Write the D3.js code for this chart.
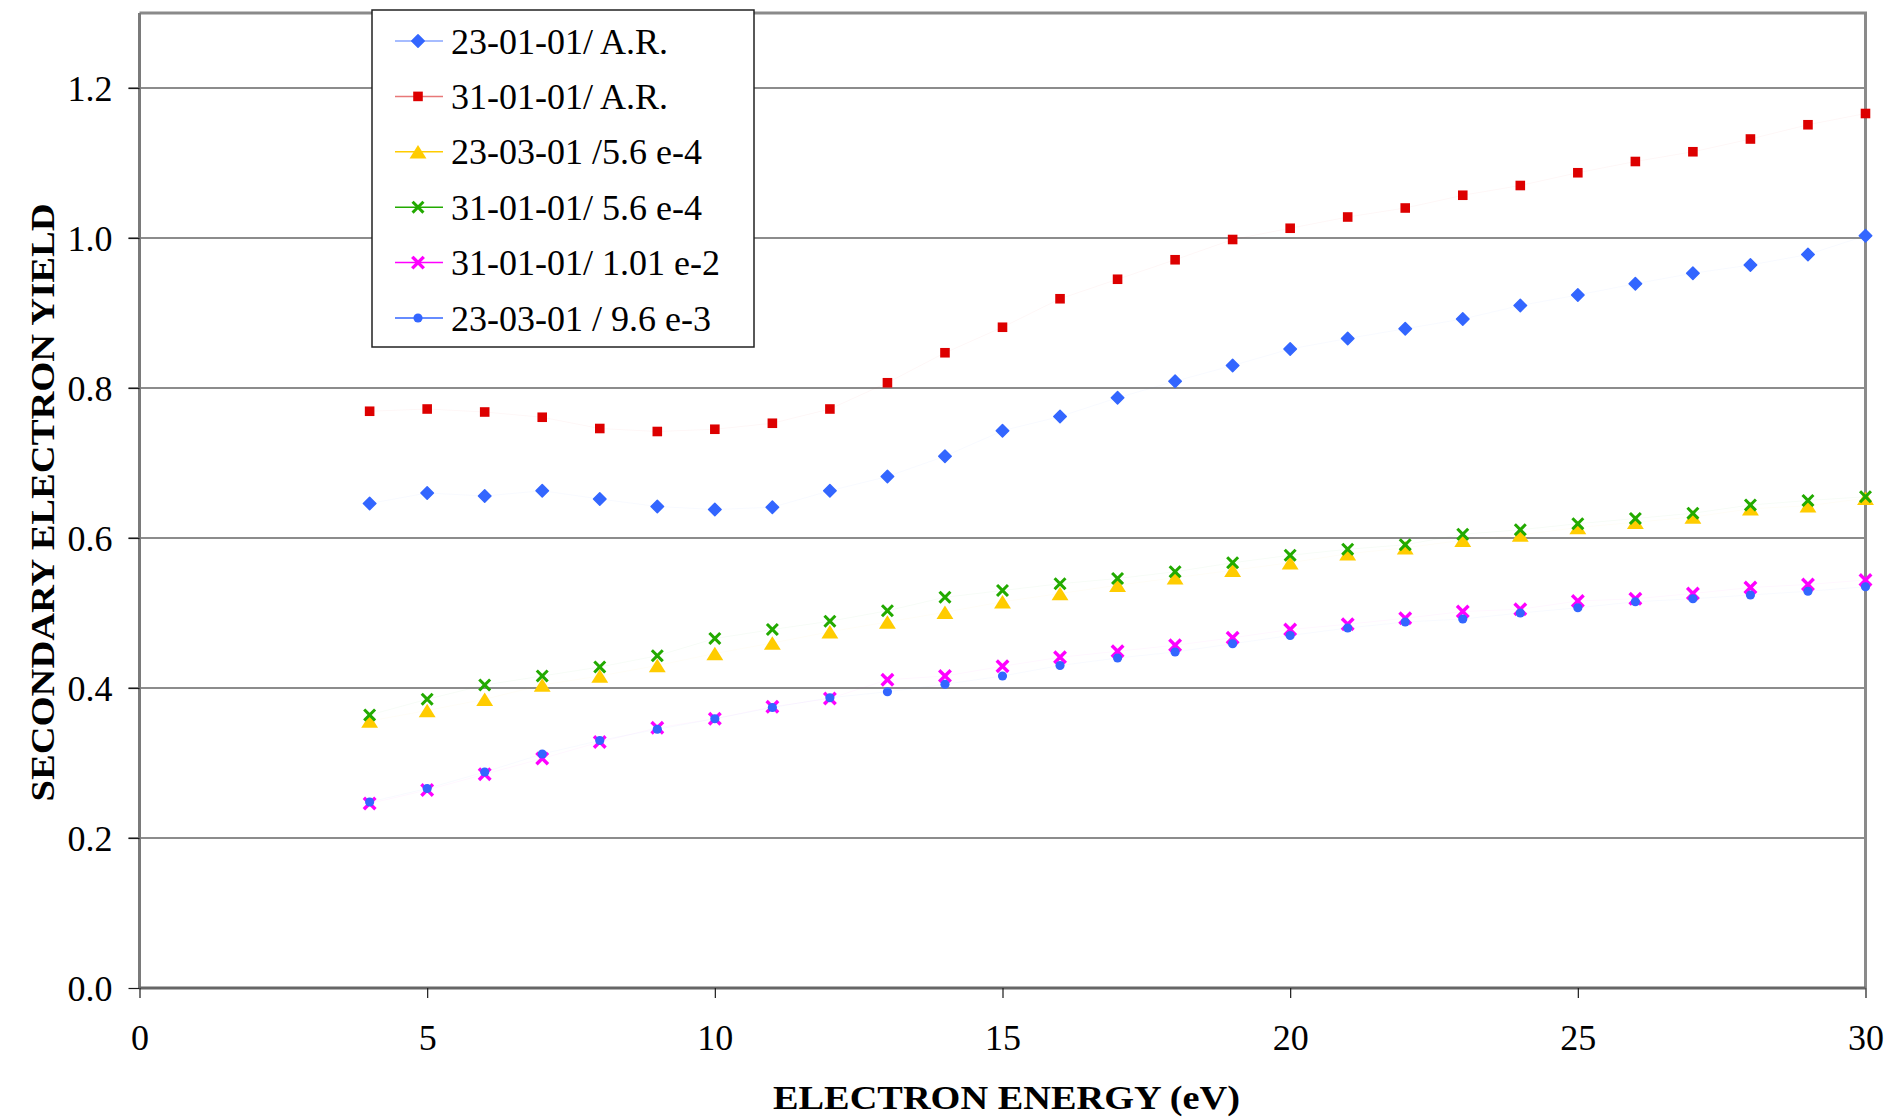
<!DOCTYPE html>
<html>
<head>
<meta charset="utf-8">
<script src="https://cdn.jsdelivr.net/npm/d3@7"></script>
<style>
  html, body { margin: 0; padding: 0; background: #fff; }
  svg { display: block; font-family: "Liberation Serif", "Times New Roman", serif; }
</style>
</head>
<body>
<svg id="chart" width="1889" height="1118"></svg>
<script>
/* Daten */
const energy = [4, 5, 6, 7, 8, 9, 10, 11, 12, 13, 14, 15, 16, 17, 18, 19, 20, 21, 22, 23, 24, 25, 26, 27, 28, 29, 30];

const ar2301   = [0.646, 0.660, 0.656, 0.663, 0.652, 0.642, 0.638, 0.641, 0.663, 0.682, 0.709, 0.743, 0.762, 0.787,
                  0.809, 0.830, 0.852, 0.866, 0.879, 0.892, 0.910, 0.924, 0.939, 0.953, 0.964, 0.978, 1.003];
const ar3101   = [0.769, 0.772, 0.768, 0.761, 0.746, 0.742, 0.745, 0.753, 0.772, 0.807, 0.847, 0.881, 0.919, 0.945,
                  0.971, 0.998, 1.013, 1.028, 1.040, 1.057, 1.070, 1.087, 1.102, 1.115, 1.132, 1.151, 1.166];
const e4_2303  = [0.356, 0.370, 0.385, 0.404, 0.416, 0.430, 0.446, 0.460, 0.475, 0.488, 0.501, 0.515, 0.526, 0.537,
                  0.547, 0.557, 0.567, 0.579, 0.587, 0.597, 0.604, 0.614, 0.621, 0.628, 0.639, 0.643, 0.653];
const e4_3101  = [0.364, 0.385, 0.404, 0.416, 0.428, 0.443, 0.466, 0.478, 0.489, 0.503, 0.521, 0.530, 0.539, 0.546,
                  0.555, 0.567, 0.577, 0.585, 0.591, 0.605, 0.611, 0.619, 0.626, 0.633, 0.644, 0.650, 0.655];
const e2_3101  = [0.246, 0.264, 0.285, 0.306, 0.328, 0.347, 0.359, 0.375, 0.386, 0.411, 0.416, 0.429, 0.441, 0.449,
                  0.457, 0.467, 0.478, 0.485, 0.493, 0.502, 0.505, 0.516, 0.519, 0.526, 0.534, 0.538, 0.544];
const e3_2303  = [0.248, 0.266, 0.288, 0.312, 0.330, 0.345, 0.359, 0.374, 0.387, 0.395, 0.405, 0.416, 0.430, 0.440,
                  0.448, 0.459, 0.470, 0.480, 0.488, 0.492, 0.500, 0.507, 0.515, 0.519, 0.524, 0.529, 0.535];

const seriesNames = ["23-01-01/ A.R.", "31-01-01/ A.R.", "23-03-01 /5.6 e-4",
                     "31-01-01/ 5.6 e-4", "31-01-01/ 1.01 e-2", "23-03-01 / 9.6 e-3"];
const seriesValues = [ar2301, ar3101, e4_2303, e4_3101, e2_3101, e3_2303];

const xTicks = [0, 5, 10, 15, 20, 25, 30];
const yTicks = [0, 0.2, 0.4, 0.6, 0.8, 1.0, 1.2];

/* Stil */
const plotLeft = 139.5, plotRight = 1865.5, plotTop = 13, plotBottom = 988;

// eigenes Dreieck (breiter als hoch, wie bei Excel)
const wideTriangle = {
  draw(ctx, size) {
    const w = Math.sqrt(size) * 1.15, h = w * 0.8;
    ctx.moveTo(0, -h / 2);
    ctx.lineTo(w / 2, h / 2);
    ctx.lineTo(-w / 2, h / 2);
    ctx.closePath();
  }
};

const styles = [
  { color: "#3366ff", legendLine: "#88a6ff", type: d3.symbolSquare, size: 78, rotate: 45, fill: true, round: 1.5 },
  { color: "#dd0000", legendLine: "#e87878", type: d3.symbolSquare, size: 92, rotate: 0, fill: true },
  { color: "#ffcc00", legendLine: "#ffcc00", type: wideTriangle,     size: 215, rotate: 0, fill: true },
  { color: "#22aa00", legendLine: "#22aa00", type: d3.symbolTimes,   size: 52, rotate: 0, fill: false, sw: 3 },
  { color: "#ff00ff", legendLine: "#ff00ff", type: d3.symbolTimes,   size: 56, rotate: 0, fill: false, sw: 3.4 },
  { color: "#3366ff", legendLine: "#3366ff", type: d3.symbolCircle,  size: 66, rotate: 0, fill: true }
];

const svg = d3.select("#chart");

const x = d3.scaleLinear().domain([0, 30]).range([plotLeft, plotRight]);
const y = d3.scaleLinear().domain([0, 1.3]).range([plotBottom, plotTop]);

svg.append("rect")
  .attr("width", 1889).attr("height", 1118)
  .attr("fill", "#fff");

// Gitterlinien
svg.append("g")
  .selectAll("line")
  .data(yTicks.filter(d => d > 0))
  .enter().append("line")
    .attr("x1", plotLeft - 11).attr("x2", plotRight)
    .attr("y1", d => y(d)).attr("y2", d => y(d))
    .attr("stroke", "#1a1a1a")
    .attr("stroke-width", 1.2);

// Rahmen oben / rechts
svg.append("path")
  .attr("d", `M${plotLeft},${plotTop}H${plotRight}V${plotBottom}`)
  .attr("fill", "none")
  .attr("stroke", "#8a8a8a")
  .attr("stroke-width", 3);

// Achsen
const yAxis = svg.append("g")
  .attr("transform", `translate(${plotLeft},0)`)
  .call(d3.axisLeft(y).tickValues(yTicks).tickFormat(d3.format(".1f")).tickSize(11).tickPadding(16));

const xAxis = svg.append("g")
  .attr("transform", `translate(0,${plotBottom})`)
  .call(d3.axisBottom(x).tickValues(xTicks).tickSize(10).tickPadding(26));

yAxis.select(".domain").attr("d", `M0,${plotTop}V${plotBottom}`).attr("stroke", "#7a7a7a").attr("stroke-width", 3);
xAxis.select(".domain").attr("d", `M${plotLeft},0H${plotRight}`).attr("stroke", "#666").attr("stroke-width", 3);

[yAxis, xAxis].forEach(ax => {
  ax.selectAll(".tick line").attr("stroke", "#1a1a1a").attr("stroke-width", 1.2);
  ax.selectAll(".tick text")
    .attr("fill", "#000")
    .style("font-family", "'Liberation Serif', serif")
    .style("font-size", "36px");
});
yAxis.selectAll(".tick text").attr("dy", "0.36em");

// Achsentitel
svg.append("text")
  .attr("x", 1006.5).attr("y", 1109)
  .attr("text-anchor", "middle")
  .attr("textLength", 467).attr("lengthAdjust", "spacingAndGlyphs")
  .style("font-weight", "bold").style("font-size", "33px")
  .text("ELECTRON ENERGY (eV)");

svg.append("text")
  .attr("transform", "translate(53.5,502.5) rotate(-90)")
  .attr("text-anchor", "middle")
  .attr("textLength", 598).attr("lengthAdjust", "spacingAndGlyphs")
  .style("font-weight", "bold").style("font-size", "33px")
  .text("SECONDARY ELECTRON YIELD");

// Datenreihen
const line = d3.line()
  .x(d => x(d.e))
  .y(d => y(d.v));

function marker(g, st) {
  g.attr("d", d3.symbol(st.type, st.size))
    .attr("fill", st.fill ? st.color : "none")
    .attr("stroke", st.fill ? (st.round ? st.color : "none") : st.color)
    .attr("stroke-width", st.fill ? (st.round || 0) : st.sw)
    .attr("stroke-linejoin", "round")
    .attr("stroke-linecap", "square");
}

seriesValues.forEach((vals, i) => {
  const st = styles[i];
  const pts = energy.map((e, k) => ({ e: e, v: vals[k] }));
  const g = svg.append("g").attr("class", "series s" + i);

  // kaum sichtbare Verbindungslinie
  g.append("path")
    .datum(pts)
    .attr("d", line)
    .attr("fill", "none")
    .attr("stroke", st.color)
    .attr("stroke-opacity", 0.035)
    .attr("stroke-width", 1);

  g.selectAll(".pt")
    .data(pts)
    .enter().append("path")
      .attr("class", "pt")
      .attr("transform", d => `translate(${x(d.e)},${y(d.v)}) rotate(${st.rotate})`)
      .call(marker, st);
});

// Legende
const legend = svg.append("g").attr("transform", "translate(372,10)");

legend.append("rect")
  .attr("width", 382).attr("height", 337)
  .attr("fill", "#fff")
  .attr("stroke", "#222")
  .attr("stroke-width", 1.5);

const item = legend.selectAll(".item")
  .data(seriesNames)
  .enter().append("g")
    .attr("class", "item")
    .attr("transform", (d, i) => `translate(0,${31 + i * 55.4})`);

item.append("line")
  .attr("x1", 23).attr("x2", 71)
  .attr("stroke", (d, i) => styles[i].legendLine)
  .attr("stroke-width", 1.5);

item.append("path")
  .attr("transform", (d, i) => `translate(46,0) rotate(${styles[i].rotate})`)
  .each(function(d, i) { d3.select(this).call(marker, styles[i]); });

item.append("text")
  .attr("x", 79).attr("dy", "0.35em")
  .style("font-size", "36px")
  .text(d => d);
</script>
</body>
</html>
